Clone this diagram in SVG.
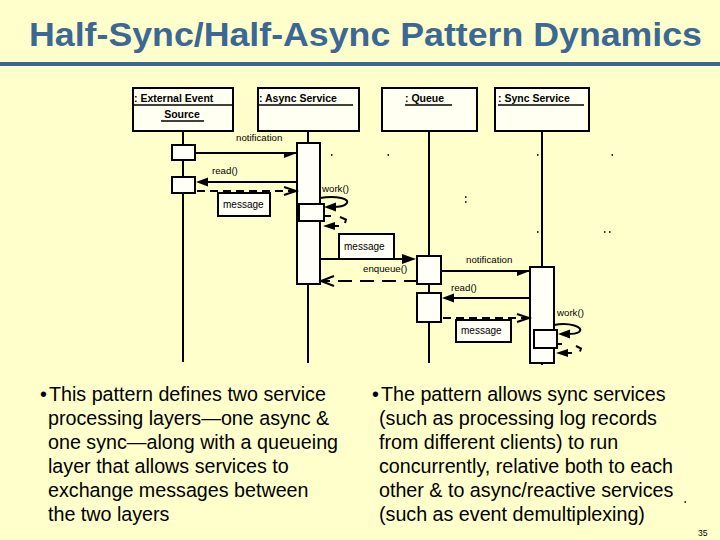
<svg xmlns="http://www.w3.org/2000/svg" width="720" height="540" viewBox="0 0 720 540">
<defs>
<style>
.bg{fill:#FFFFCC}
.title{font-family:"Liberation Sans",Arial,sans-serif;font-weight:bold;font-size:34px;fill:#3B6894}
.obj{fill:#FFFFF2;stroke:#000;stroke-width:2}
.objt{font-family:"Liberation Sans",Arial,sans-serif;font-size:10.5px;font-weight:bold;fill:#000}
.ul{stroke:#000;stroke-width:1.3}
.life{stroke:#000;stroke-width:2;fill:none}
.act{fill:#FFFFF8;stroke:#000;stroke-width:2}
.msg{stroke:#000;stroke-width:2;fill:none}
.dash1{stroke:#000;stroke-width:2;fill:none;stroke-dasharray:8 5}
.dash2{stroke:#000;stroke-width:2;fill:none;stroke-dasharray:14 8}
.head{fill:#000;stroke:none}
.lbl{font-family:"Liberation Sans",Arial,sans-serif;font-size:9.7px;fill:#000}
.note{fill:#FFFFF6;stroke:#000;stroke-width:2}
.notet{font-family:"Liberation Sans",Arial,sans-serif;font-size:10px;fill:#000}
.body{font-family:"Liberation Sans",Arial,sans-serif;font-size:19.7px;fill:#000}
.dot{fill:#333}
</style>
</defs>
<rect class="bg" x="0" y="0" width="720" height="540"/>

<g id="title">
<text class="title" x="29" y="46" textLength="673" lengthAdjust="spacingAndGlyphs">Half-Sync/Half-Async Pattern Dynamics</text>
<rect x="0" y="62" width="720" height="4" fill="#3B6894"/>
</g>

<g id="lifelines">
<line class="life" x1="183" y1="132" x2="183" y2="362"/>
<line class="life" x1="308" y1="132" x2="308" y2="363"/>
<line class="life" x1="429" y1="131" x2="429" y2="363"/>
<line class="life" x1="542" y1="131" x2="542" y2="365"/>
</g>

<g id="external-event-source">
<rect class="obj" x="133" y="88" width="100" height="43"/>
<text class="objt" x="134" y="102">: External Event</text>
<line class="ul" x1="133" y1="105" x2="233" y2="105"/>
<text class="objt" x="182" y="118" text-anchor="middle">Source</text>
<line class="ul" x1="161" y1="121" x2="204" y2="121"/>
<rect class="act" x="172" y="145" width="23" height="15"/>
<rect class="act" x="172" y="177" width="23" height="16"/>
</g>

<g id="async-service">
<rect class="obj" x="258" y="88" width="101" height="43"/>
<text class="objt" x="259" y="102">: Async Service</text>
<line class="ul" x1="258" y1="105" x2="353" y2="105"/>
<rect class="act" x="297" y="143" width="23" height="141"/>
<rect class="act" x="299" y="204" width="25" height="17"/>
</g>

<g id="queue">
<rect class="obj" x="382" y="88" width="95" height="43"/>
<text class="objt" x="405" y="102">: Queue</text>
<line class="ul" x1="405" y1="105" x2="452" y2="105"/>
<rect class="act" x="417" y="256" width="24" height="28"/>
<rect class="act" x="417" y="293" width="24" height="29"/>
</g>

<g id="sync-service">
<rect class="obj" x="495" y="88" width="94" height="43"/>
<text class="objt" x="498" y="102">: Sync Service</text>
<line class="ul" x1="498" y1="105" x2="584" y2="105"/>
<rect class="act" x="530" y="267" width="24" height="96"/>
<rect class="act" x="534" y="330" width="23" height="18"/>
</g>

<g id="connectors">
<!-- notification 1 -->
<line class="msg" x1="195" y1="153" x2="296" y2="153"/>
<polygon class="head" points="297,153 284,153 284,158"/>
<text class="lbl" x="236" y="141">notification</text>
<!-- read() 1 -->
<line class="msg" x1="297" y1="182" x2="206" y2="182"/>
<polygon class="head" points="196,182 208,177.5 208,186.5"/>
<text class="lbl" x="212" y="174">read()</text>
<!-- message 1 (dashed) -->
<line class="dash1" x1="197" y1="191" x2="295" y2="191"/>
<polyline class="msg" points="284,187 296,191 284,195"/>
<rect class="note" x="218" y="193" width="52" height="23"/>
<text class="notet" x="223" y="208">message</text>
<!-- work() async self call -->
<text class="lbl" x="322" y="192">work()</text>
<path class="msg" d="M320,198 C336,195 352,199 346,204 C343,207 337,207 333,207"/>
<polygon class="head" points="324,207 336,202.5 336,211.5"/>
<line class="msg" x1="324" y1="216" x2="331" y2="216"/>
<polyline class="msg" stroke-width="1.5" points="340,217 346,219.5 345,223"/>
<polygon class="head" points="323,226 335,222 335,230"/>
<line class="msg" x1="334" y1="226" x2="339" y2="226"/>
<!-- message 2 to queue -->
<rect class="note" x="339" y="234" width="55" height="25"/>
<text class="notet" x="344" y="250">message</text>
<line class="msg" x1="320" y1="259" x2="405" y2="259"/>
<polygon class="head" points="416,259 402,254 402,264"/>
<text class="lbl" x="363" y="272">enqueue()</text>
<!-- dashed return from queue -->
<line class="dash2" x1="416" y1="281" x2="323" y2="281" stroke-dashoffset="2"/>
<polyline class="msg" points="334,276 321,281 334,286"/>
<!-- notification 2 -->
<line class="msg" x1="441" y1="271" x2="529" y2="271"/>
<polygon class="head" points="530,271 517,271 517,276"/>
<text class="lbl" x="466" y="263">notification</text>
<!-- read() 2 -->
<line class="msg" x1="530" y1="298" x2="452" y2="298"/>
<polygon class="head" points="442,298 454,293.5 454,302.5"/>
<text class="lbl" x="451" y="291">read()</text>
<!-- message 3 dashed -->
<line class="dash1" x1="443" y1="318" x2="528" y2="318"/>
<polyline class="msg" points="517,314 529,318 517,322"/>
<rect class="note" x="456" y="320" width="55" height="22"/>
<text class="notet" x="461" y="334">message</text>
<!-- work() sync self call -->
<text class="lbl" x="557" y="316">work()</text>
<path class="msg" d="M554,325 C569,322 585,327 579,332 C576,334 571,334 567,334"/>
<polygon class="head" points="558,334 570,329.5 570,338.5"/>
<line class="msg" x1="557" y1="344" x2="562" y2="344"/>
<polyline class="msg" stroke-width="1.5" points="576,346 581,348.5 580,351.5"/>
<polygon class="head" points="556,353 568,349 568,357"/>
<line class="msg" x1="567" y1="353" x2="572" y2="353"/>
</g>

<g id="specks">
<rect class="dot" x="331" y="154" width="1.5" height="2"/>
<rect class="dot" x="387.5" y="154" width="1.5" height="2"/>
<rect class="dot" x="537" y="154" width="1.5" height="2"/>
<rect class="dot" x="611.5" y="154" width="1.5" height="2"/>
<rect class="dot" x="465" y="196" width="1.5" height="2"/>
<rect class="dot" x="465" y="201" width="1.5" height="2"/>
<rect class="dot" x="537" y="231" width="1.5" height="2"/>
<rect class="dot" x="604" y="231" width="1.5" height="2"/>
<rect class="dot" x="609" y="231" width="1.5" height="2"/>
<rect class="dot" x="684.5" y="501" width="1.5" height="2"/>
</g>

<g id="bullet-left">
<text class="body" x="40" y="400.5">•</text>
<text class="body" x="49" y="400.5">This pattern defines two service</text>
<text class="body" x="48" y="424.5">processing layers—one async &amp;</text>
<text class="body" x="48" y="448.5">one sync—along with a queueing</text>
<text class="body" x="48" y="472.5">layer that allows services to</text>
<text class="body" x="48" y="496.5">exchange messages between</text>
<text class="body" x="48" y="520.5">the two layers</text>
</g>

<g id="bullet-right">
<text class="body" x="372" y="400.5">•</text>
<text class="body" x="381" y="400.5">The pattern allows sync services</text>
<text class="body" x="379" y="424.5">(such as processing log records</text>
<text class="body" x="379" y="448.5">from different clients) to run</text>
<text class="body" x="379" y="472.5">concurrently, relative both to each</text>
<text class="body" x="379" y="496.5">other &amp; to async/reactive services</text>
<text class="body" x="379" y="520.5">(such as event demultiplexing)</text>
</g>

<g id="page-number">
<text x="698" y="536" font-family="Liberation Sans, Arial, sans-serif" font-size="8.5" fill="#000">35</text>
</g>
</svg>
